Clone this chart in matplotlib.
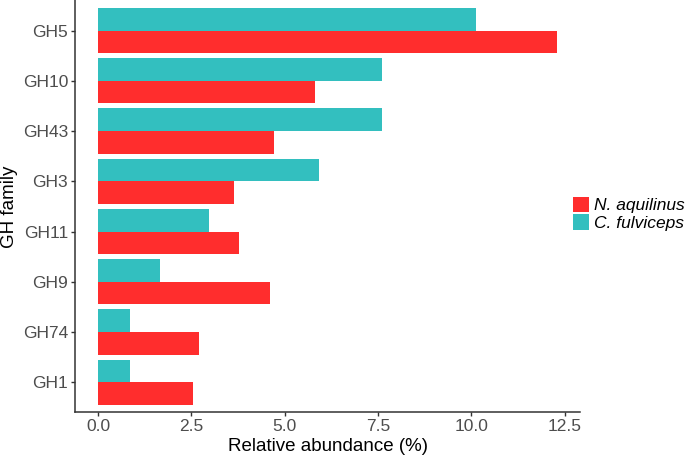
import matplotlib
matplotlib.use("Agg")
import matplotlib.pyplot as plt
import numpy as np
from matplotlib.patches import Patch

plt.rcParams['font.family'] = ['Liberation Sans', 'DejaVu Sans']

families = ["GH5", "GH10", "GH43", "GH3", "GH11", "GH9", "GH74", "GH1"]
n_aquilinus = [12.3, 5.82, 4.72, 3.65, 3.78, 4.61, 2.71, 2.55]
c_fulviceps = [10.13, 7.61, 7.61, 5.92, 2.98, 1.66, 0.86, 0.86]

red = "#FF2D2D"
cyan = "#33BFBF"

fig = plt.figure(figsize=(6.85, 4.57), dpi=100)
ax = fig.add_axes([0.1095, 0.0975, 0.7375, 0.9015])

y = np.arange(len(families))[::-1] + 1
w = 0.45
ax.barh(y - w/2, n_aquilinus, height=w, color=red)
ax.barh(y + w/2, c_fulviceps, height=w, color=cyan)

ax.set_yticks(y)
ax.set_yticklabels(families)
ax.set_xticks([0, 2.5, 5.0, 7.5, 10.0, 12.5])
ax.set_xticklabels(["0.0", "2.5", "5.0", "7.5", "10.0", "12.5"])
xmax = max(max(n_aquilinus), max(c_fulviceps))
ax.set_xlim(-0.05 * xmax, 1.05 * xmax)
ax.set_ylim(0.4, len(families) + 0.6)

for s in ["top", "right"]:
    ax.spines[s].set_visible(False)
for s in ["left", "bottom"]:
    ax.spines[s].set_color("#333333")
    ax.spines[s].set_linewidth(1.1)
ax.tick_params(axis='both', colors="#333333", labelcolor="#4D4D4D", labelsize=12.5,
               length=3, width=1, pad=2)

ax.set_xlabel("Relative abundance (%)", fontsize=13.5, color="black")
ax.set_ylabel("GH family", fontsize=13.5, color="black")
ax.xaxis.set_label_coords(0.5, -0.062)
ax.yaxis.set_label_coords(-0.112, 0.5)

handles = [Patch(facecolor=red, label="N. aquilinus"),
           Patch(facecolor=cyan, label="C. fulviceps")]
leg = fig.legend(handles=handles, loc="center left", bbox_to_anchor=(0.8365, 0.532),
                 frameon=False, borderpad=0, borderaxespad=0,
                 handlelength=0.95, handleheight=1.0, handletextpad=0.25,
                 labelspacing=0.05, prop={'size': 12.5, 'style': 'italic'})

fig.savefig("out.png", dpi=100)
